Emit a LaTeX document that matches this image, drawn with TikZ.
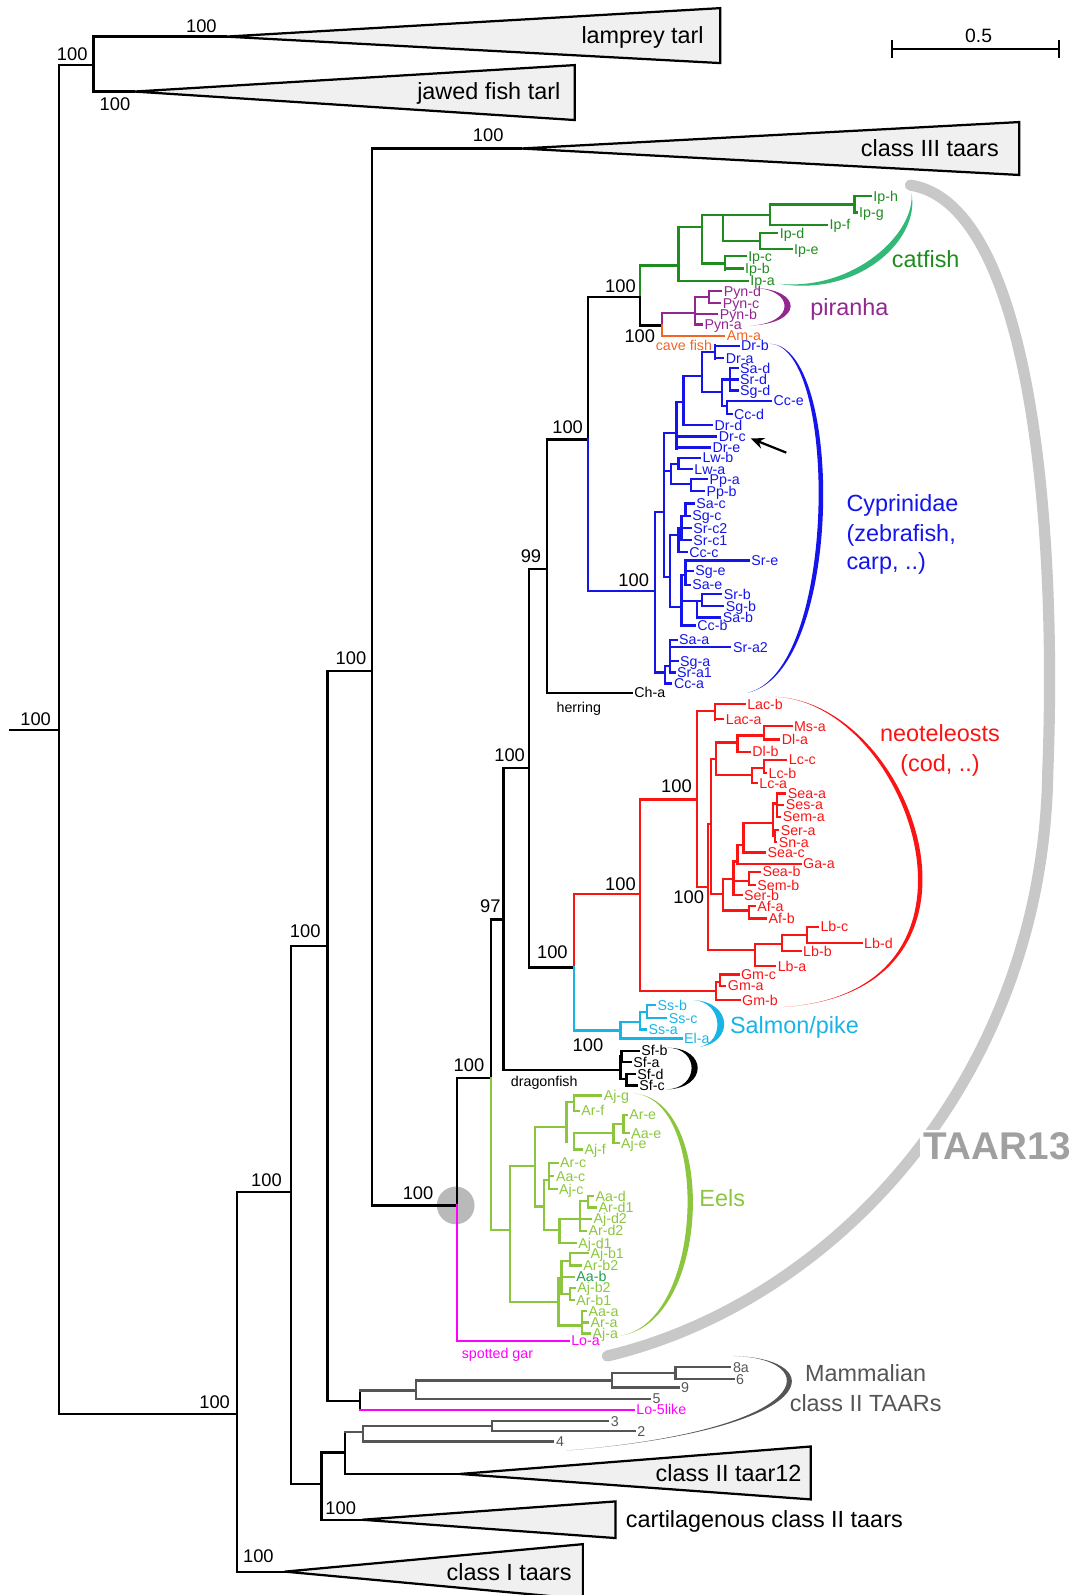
\documentclass[tikz,border=0pt]{standalone}
\usepackage{fontspec}
\setmainfont{Liberation Sans}
\usetikzlibrary{arrows.meta,calc}
\definecolor{cfg}{RGB}{30,140,30}
\definecolor{cfb}{RGB}{50,185,120}
\definecolor{pur}{RGB}{146,39,143}
\definecolor{org}{RGB}{242,101,34}
\definecolor{blu}{RGB}{20,20,235}
\definecolor{rd}{RGB}{250,20,20}
\definecolor{cya}{RGB}{25,180,230}
\definecolor{eel}{RGB}{140,198,63}
\definecolor{aab}{RGB}{30,160,80}
\definecolor{mag}{RGB}{255,0,255}
\definecolor{arcg}{RGB}{200,200,200}
\definecolor{taar}{RGB}{160,160,160}
\definecolor{mam}{RGB}{85,85,85}
\definecolor{trif}{RGB}{240,240,240}
\tikzset{
 br/.style={line width=2.2pt, line cap=rect},
 lbl/.style={font=\fontsize{14}{14}\selectfont, inner sep=1.5pt, text height=10pt, text depth=0pt},
 bs/.style={font=\fontsize{18}{18}\selectfont, inner sep=0pt, text height=13pt, text depth=0pt},
 big/.style={font=\fontsize{23}{23}\selectfont, inner sep=0pt, text height=16.5pt, text depth=0pt},
 tri/.style={draw=black, fill=trif, line width=2.2pt, line join=miter},
}
\newcommand\Vt[4]{\draw[br,#1] (#2,#3) -- (#2,#4);}
\newcommand\Hz[4]{\draw[br,#1] (#2,#4) -- (#3,#4);}
\newcommand\Lf[5]{\draw[br,#1] (#2,#4) -- (#3,#4) node[lbl,anchor=west,text=#1]{#5};}
\newcommand\cres[6]{\fill[#1] #2 .. controls #3 and #4 .. #5 .. controls ($#4+#6$) and ($#3+#6$) .. #2 -- cycle;}
\begin{document}
\begin{tikzpicture}[x=1pt,y=-1pt]
\useasboundingbox (0,0) rectangle (1072,1568);
% TAAR13 arc
\draw[arcg, line width=11pt, line cap=round] (895,182) .. controls (1010,200) and (1040,500) .. (1030,760) .. controls (1025,1060) and (820,1280) .. (597,1333);
\node[font=\fontsize{38}{38}\selectfont\bfseries, text=taar, fill=white, inner sep=3pt] (taar13) at (980,1127) {TAAR13};
% scale bar
\draw[line width=2.2pt] (877,48) -- (1041,48) (877,39) -- (877,57) (1041,39) -- (1041,57);
\node[font=\fontsize{19}{19}\selectfont] (scl) at (962,35) {0.5};
% top
\Hz{black}{10}{58}{718}
\Vt{black}{58}{64}{1390}
\Hz{black}{58}{92}{64}
\Vt{black}{92}{36}{90}
\Hz{black}{92}{222}{36}
\draw[tri] (222,36) -- (708,8) -- (708,62) -- cycle;
\node[big,anchor=east] (lam) at (692,35) {lamprey tarl};
\Hz{black}{92}{132}{90}
\draw[tri] (132,90) -- (565,64) -- (565,118) -- cycle;
\node[big,anchor=east] (jaw) at (551,90) {jawed fish tarl};
\Hz{black}{366}{512}{146}
\draw[tri] (512,146) -- (1002,120) -- (1002,172) -- cycle;
\node[big,anchor=east] (c3) at (982,146) {class III taars};
\Vt{black}{366}{146}{1185}
\fill[gray!55] (448,1185) circle (18.5);
\Hz{black}{366}{449}{1185}
\Hz{black}{322}{366}{660}
\Vt{black}{322}{660}{1377}
\Hz{black}{286}{322}{930}
\Vt{black}{286}{930}{1459}
\Hz{black}{233}{286}{1172}
\Vt{black}{233}{1172}{1545}
\Hz{black}{58}{233}{1390}
\Hz{black}{233}{280}{1545}
\draw[tri] (280,1545) -- (573,1518) -- (573,1572) -- cycle;
\node[big,anchor=east] (c1) at (562,1545) {class I taars};
\Hz{black}{286}{316}{1459}
\Vt{black}{316}{1428}{1494}
\Hz{black}{316}{356}{1494}
\draw[tri] (356,1494) -- (605,1476) -- (605,1512) -- cycle;
\node[big,anchor=west] (cart) at (615,1493) {cartilagenous class II taars};
\Hz{black}{316}{339}{1428}
\Vt{black}{339}{1408}{1449}
\Hz{black}{339}{452}{1449}
\draw[tri] (452,1449) -- (797,1422) -- (797,1474) -- cycle;
\node[big,anchor=east] (c12) at (788,1448) {class II taar12};
% mammalian
\Hz{mam}{339}{357}{1408}
\Vt{mam}{357}{1402}{1417}
\Hz{mam}{357}{483.5}{1402}
\Lf{mam}{357}{544}{1417}{4}
\Vt{mam}{483.5}{1397}{1407}
\Lf{mam}{483.5}{598}{1397}{3}
\Lf{mam}{483.5}{624}{1407}{2}
\Hz{black}{322}{354}{1377}
\Vt{black}{354}{1367}{1386}
\Hz{mam}{354}{409}{1367}
\Lf{mag}{354}{623}{1386}{Lo-5like}
\Vt{mam}{409}{1357}{1375}
\Hz{mam}{409}{601.5}{1357}
\Lf{mam}{409}{639}{1375}{5}
\Vt{mam}{601.5}{1350}{1364}
\Hz{mam}{601.5}{664}{1350}
\Lf{mam}{601.5}{667}{1364}{9}
\Vt{mam}{664}{1344}{1356}
\Lf{mam}{664}{718}{1344}{8a}
\Lf{mam}{664}{721}{1356}{6}
\cres{mam}{(721,1333)}{(815,1335)}{(815,1405)}{(557,1426)}{(-7,0)}
\node[big,text=mam] (mm1) at (851,1350) {Mammalian};
\node[big,text=mam] (mm2) at (851,1379) {class II TAARs};
% TAAR13 backbone
\Vt{black}{449}{1060}{1185}
\Vt{mag}{449}{1185}{1318}
\Lf{mag}{449}{559}{1318}{Lo-a}
\node[lbl,text=mag] (gar) at (489,1330) {spotted gar};
\Hz{black}{449}{483}{1060}
\Vt{black}{483}{904}{1060}
\Vt{eel}{483}{1060}{1209}
\Hz{eel}{483}{501}{1209}
\Hz{black}{483}{495}{904}
\Vt{black}{495}{755}{1052}
\Hz{black}{495}{610}{1052}
\node[lbl] (drg) at (535,1063) {dragonfish};
\Hz{black}{495}{520}{755}
\Vt{black}{520}{559}{951}
\Hz{black}{520}{538}{559}
\Vt{black}{538}{432}{681}
\Lf{black}{538}{621}{681}{Ch-a}
\node[lbl] (her) at (569,695) {herring};
\Hz{black}{538}{578}{432}
\Vt{black}{578}{292}{432}
\Vt{blu}{578}{432}{581}
\Hz{blu}{578}{644}{581}
\Hz{black}{578}{629}{292}
\Hz{black}{520}{564}{951}
\Vt{rd}{564}{879}{951}
\Vt{cya}{564}{951}{1013}
\Hz{rd}{564}{629}{879}
\Hz{cya}{564}{610}{1013}
% catfish
\Vt{cfg}{629}{261}{292}
\Vt{black}{629}{292}{320}
\Hz{cfg}{629}{667}{261}
\Hz{black}{629}{651}{320}
\Vt{cfg}{667}{223}{276}
\Lf{cfg}{667}{735}{276}{Ip-a}
\Hz{cfg}{667}{690}{223}
\Vt{cfg}{690}{211}{259}
\Hz{cfg}{690}{713}{259}
\Vt{cfg}{713}{253}{265}
\Lf{cfg}{713}{733}{252}{Ip-c}
\Lf{cfg}{713}{730}{264}{Ip-b}
\Hz{cfg}{690}{757}{211}
\Vt{cfg}{711}{211}{237}
\Hz{cfg}{711}{747}{237}
\Vt{cfg}{747}{229}{245}
\Lf{cfg}{747}{764}{229}{Ip-d}
\Lf{cfg}{747}{778}{245}{Ip-e}
\Vt{cfg}{757}{201}{221}
\Lf{cfg}{757}{813}{221}{Ip-f}
\Hz{cfg}{757}{840}{201}
\Vt{cfg}{840}{193}{207}
\Lf{cfg}{840}{856}{193}{Ip-h}
\Lf{cfg}{840}{842}{209}{Ip-g}
\cres{cfb}{(766,279)}{(845,292)}{(905,235)}{(896,190)}{(-5,-6)}
\node[big,text=cfg] (cat) at (910,255) {catfish};
% piranha
\Vt{pur}{651}{308}{320}
\Vt{org}{651}{320}{330}
\Hz{pur}{651}{683}{308}
\Lf{org}{651}{712}{330}{Am-a}
\node[lbl,text=org,anchor=west] (cave) at (643,340) {cave fish};
\Vt{pur}{683}{292}{318}
\Hz{pur}{683}{697}{292}
\Vt{pur}{697}{286}{298}
\Lf{pur}{697}{709}{286}{Pyn-d}
\Lf{pur}{697}{708}{298}{Pyn-c}
\Lf{pur}{683}{705}{309}{Pyn-b}
\Lf{pur}{683}{690}{319}{Pyn-a}
\cres{pur}{(740,283)}{(790,284)}{(790,318)}{(738,320)}{(-8,0)}
\node[big,text=pur] (pir) at (835,302) {piranha};
% Cyprinidae
\Vt{blu}{644}{503}{661}
\Hz{blu}{644}{653}{503}
\Vt{blu}{653}{426}{567}
\Hz{blu}{653}{665}{426}
\Vt{blu}{665}{395}{441}
\Lf{blu}{665}{704}{429}{Dr-c}
\Lf{blu}{665}{698}{440}{Dr-e}
\Hz{blu}{665}{672}{395}
\Vt{blu}{672}{370}{418}
\Lf{blu}{672}{700}{418}{Dr-d}
\Hz{blu}{672}{690}{370}
\Vt{blu}{690}{346}{385}
\Hz{blu}{690}{703}{346}
\Vt{blu}{703}{339}{353}
\Lf{blu}{703}{726}{340}{Dr-b}
\Lf{blu}{703}{711}{352}{Dr-a}
\Hz{blu}{690}{710}{385}
\Vt{blu}{710}{373}{399}
\Hz{blu}{710}{718}{373}
\Vt{blu}{718}{362}{384}
\Lf{blu}{718}{725}{362}{Sa-d}
\Lf{blu}{718}{725}{373}{Sr-d}
\Lf{blu}{718}{725}{384}{Sg-d}
\Hz{blu}{710}{715}{399}
\Vt{blu}{715}{394}{407}
\Lf{blu}{715}{758}{394}{Cc-e}
\Lf{blu}{715}{719}{407}{Cc-d}
\Hz{blu}{653}{660}{463}
\Vt{blu}{660}{456}{476}
\Hz{blu}{660}{667}{456}
\Vt{blu}{667}{450}{461}
\Lf{blu}{667}{688}{450}{Lw-b}
\Lf{blu}{667}{680}{461}{Lw-a}
\Hz{blu}{660}{679}{476}
\Vt{blu}{679}{471}{483}
\Lf{blu}{679}{695}{471}{Pp-a}
\Lf{blu}{679}{692}{483}{Pp-b}
\Hz{blu}{653}{659}{567}
\Vt{blu}{659}{526}{597}
\Hz{blu}{659}{667}{526}
\Vt{blu}{667}{519}{543}
\Lf{blu}{667}{675}{543}{Cc-c}
\Hz{blu}{667}{670}{519}
\Vt{blu}{670}{507}{531}
\Lf{blu}{670}{679}{519}{Sr-c2}
\Lf{blu}{670}{679}{531}{Sr-c1}
\Hz{blu}{670}{674}{507}
\Vt{blu}{674}{495}{507}
\Lf{blu}{674}{682}{495}{Sa-c}
\Lf{blu}{674}{678}{507}{Sg-c}
\Hz{blu}{659}{670}{597}
\Vt{blu}{670}{565}{614}
\Hz{blu}{670}{674}{565}
\Vt{blu}{674}{551}{575}
\Lf{blu}{674}{736}{551}{Sr-e}
\Lf{blu}{674}{681}{561}{Sg-e}
\Lf{blu}{674}{678}{575}{Sa-e}
\Hz{blu}{670}{685}{591}
\Vt{blu}{685}{591}{606}
\Hz{blu}{685}{690}{591}
\Vt{blu}{690}{584}{596}
\Lf{blu}{690}{709}{584}{Sr-b}
\Lf{blu}{690}{711}{596}{Sg-b}
\Lf{blu}{685}{708}{607}{Sa-b}
\Lf{blu}{670}{683}{615}{Cc-b}
\Hz{blu}{644}{654}{661}
\Vt{blu}{654}{655}{672}
\Lf{blu}{654}{660}{672}{Cc-a}
\Hz{blu}{654}{659}{655}
\Vt{blu}{659}{629}{661}
\Lf{blu}{659}{665}{629}{Sa-a}
\Lf{blu}{659}{718}{636}{Sr-a2}
\Lf{blu}{659}{666}{650}{Sg-a}
\Lf{blu}{659}{663}{661}{Sr-a1}
\cres{blu}{(757,338)}{(830,340)}{(830,660)}{(735,681)}{(-6,0)}
\node[big,text=blu,anchor=west] (cy1) at (832,495) {Cyprinidae};
\node[big,text=blu,anchor=west] (cy2) at (832,524) {(zebrafish,};
\node[big,text=blu,anchor=west] (cy3) at (832,552) {carp, ..)};
\coordinate (arrS) at (773,445);
\coordinate (arrE) at (738,431);
\draw[line width=2.2pt,-{Stealth[length=13pt,width=11pt]}] (arrS) -- (arrE);
% neoteleosts
\Vt{rd}{629}{786}{974}
\Hz{rd}{629}{685}{786}
\Vt{rd}{685}{699}{872}
\Hz{rd}{685}{703}{699}
\Vt{rd}{703}{692}{708}
\Lf{rd}{703}{732}{692}{Lac-b}
\Lf{rd}{703}{711}{707}{Lac-a}
\Hz{rd}{685}{696}{872}
\Vt{rd}{696}{810}{934}
\Hz{rd}{696}{699}{810}
\Vt{rd}{699}{746}{879}
\Hz{rd}{699}{704}{746}
\Vt{rd}{704}{730}{762}
\Hz{rd}{704}{725}{730}
\Vt{rd}{725}{723}{739}
\Hz{rd}{725}{751}{723}
\Vt{rd}{751}{714}{727}
\Lf{rd}{751}{778}{714}{Ms-a}
\Lf{rd}{751}{766}{727}{Dl-a}
\Lf{rd}{725}{737}{739}{Dl-b}
\Hz{rd}{704}{739}{762}
\Vt{rd}{739}{755}{770}
\Hz{rd}{739}{751}{755}
\Vt{rd}{751}{747}{760}
\Lf{rd}{751}{773}{747}{Lc-c}
\Lf{rd}{751}{753}{760}{Lc-b}
\Lf{rd}{739}{744}{770}{Lc-a}
\Hz{rd}{699}{711}{879}
\Vt{rd}{711}{864}{895}
\Hz{rd}{711}{721}{864}
\Vt{rd}{721}{847}{880}
\Hz{rd}{721}{725}{847}
\Vt{rd}{725}{831}{849}
\Lf{rd}{725}{787}{849}{Ga-a}
\Hz{rd}{725}{731}{831}
\Vt{rd}{731}{809}{838}
\Lf{rd}{731}{752}{838}{Sea-c}
\Hz{rd}{731}{760}{809}
\Vt{rd}{760}{790}{822}
\Hz{rd}{760}{764}{790}
\Vt{rd}{764}{780}{803}
\Lf{rd}{764}{772}{780}{Sea-a}
\Lf{rd}{764}{770}{791}{Ses-a}
\Lf{rd}{764}{767}{803}{Sem-a}
\Hz{rd}{760}{762}{822}
\Vt{rd}{762}{816}{828}
\Lf{rd}{762}{765}{816}{Ser-a}
\Lf{rd}{762}{763}{828}{Sn-a}
\Hz{rd}{721}{736}{866}
\Vt{rd}{736}{857}{870}
\Lf{rd}{736}{747}{857}{Sea-b}
\Lf{rd}{736}{742}{870}{Sem-b}
\Lf{rd}{721}{729}{880}{Ser-b}
\Hz{rd}{711}{736}{895}
\Vt{rd}{736}{891}{903}
\Lf{rd}{736}{742}{891}{Af-a}
\Lf{rd}{736}{753}{903}{Af-b}
\Hz{rd}{696}{742}{934}
\Vt{rd}{742}{928}{950}
\Lf{rd}{742}{762}{950}{Lb-a}
\Hz{rd}{742}{769}{928}
\Vt{rd}{769}{919}{935}
\Lf{rd}{769}{787}{935}{Lb-b}
\Hz{rd}{769}{793}{919}
\Vt{rd}{793}{911}{927}
\Lf{rd}{793}{804}{911}{Lb-c}
\Lf{rd}{793}{847}{927}{Lb-d}
\Hz{rd}{629}{704}{974}
\Vt{rd}{704}{965}{983}
\Hz{rd}{704}{708}{965}
\Vt{rd}{708}{958}{969}
\Lf{rd}{708}{726}{958}{Gm-c}
\Lf{rd}{708}{713}{969}{Gm-a}
\Lf{rd}{704}{727}{983}{Gm-b}
\cres{rd}{(762,685)}{(900,690)}{(1000,975)}{(770,990)}{(-6,0)}
\node[big,text=rd] (neo1) at (924,721) {neoteleosts};
\node[big,text=rd] (neo2) at (924,750) {(cod, ..)};
% salmon
\Vt{cya}{610}{1005}{1021}
\Hz{cya}{610}{629}{1005}
\Lf{cya}{610}{670}{1021}{El-a}
\Vt{cya}{629}{995}{1012}
\Hz{cya}{629}{636}{995}
\Lf{cya}{629}{635}{1012}{Ss-a}
\Vt{cya}{636}{988}{1001}
\Lf{cya}{636}{644}{988}{Ss-b}
\Lf{cya}{636}{655}{1001}{Ss-c}
\cres{cya}{(681,983)}{(721,985)}{(721,1025)}{(688,1029)}{(-9,0)}
\node[big,text=cya] (sal) at (781,1008) {Salmon/pike};
% dragonfish
\Vt{black}{610}{1038}{1061}
\Vt{black}{611}{1033}{1044}
\Lf{black}{611}{628}{1033}{Sf-b}
\Lf{black}{611}{620}{1044}{Sf-a}
\Hz{black}{610}{616}{1061}
\Vt{black}{616}{1056}{1067}
\Lf{black}{616}{624}{1056}{Sf-d}
\Lf{black}{616}{626}{1067}{Sf-c}
\cres{black}{(656,1030)}{(696,1030)}{(696,1070)}{(655,1071)}{(-8,0)}
% eels
\Vt{eel}{501}{1146}{1280}
\Hz{eel}{501}{526}{1146}
\Vt{eel}{526}{1108}{1186}
\Hz{eel}{526}{557}{1108}
\Vt{eel}{557}{1083}{1123}
\Hz{eel}{557}{564}{1083}
\Vt{eel}{564}{1077}{1092}
\Lf{eel}{564}{591}{1077}{Aj-g}
\Lf{eel}{564}{569}{1092}{Ar-f}
\Vt{eel}{564}{1114}{1130}
\Hz{eel}{564}{603}{1114}
\Lf{eel}{564}{572}{1130}{Aj-f}
\Vt{eel}{603}{1105}{1124}
\Hz{eel}{603}{613}{1105}
\Vt{eel}{613}{1096}{1114}
\Lf{eel}{613}{616}{1096}{Ar-e}
\Lf{eel}{613}{618}{1114}{Aa-e}
\Lf{eel}{603}{608}{1124}{Aj-e}
\Hz{eel}{526}{535}{1186}
\Vt{eel}{535}{1160}{1209}
\Hz{eel}{535}{540}{1160}
\Vt{eel}{540}{1143}{1169}
\Lf{eel}{540}{548}{1143}{Ar-c}
\Lf{eel}{540}{544}{1156}{Aa-c}
\Lf{eel}{540}{547}{1169}{Aj-c}
\Hz{eel}{535}{550}{1209}
\Vt{eel}{550}{1198}{1222}
\Lf{eel}{550}{566}{1222}{Aj-d1}
\Hz{eel}{550}{570}{1198}
\Vt{eel}{570}{1181}{1210}
\Hz{eel}{570}{578}{1181}
\Vt{eel}{578}{1176}{1187}
\Lf{eel}{578}{583}{1176}{Aa-d}
\Lf{eel}{578}{586}{1187}{Ar-d1}
\Lf{eel}{570}{581}{1198}{Aj-d2}
\Lf{eel}{570}{576}{1210}{Ar-d2}
\Hz{eel}{501}{549}{1280}
\Vt{eel}{549}{1256}{1303}
\Hz{eel}{549}{552}{1256}
\Vt{eel}{552}{1240}{1272}
\Hz{eel}{552}{560}{1240}
\Vt{eel}{560}{1232}{1244}
\Lf{eel}{560}{578}{1232}{Aj-b1}
\Lf{eel}{560}{571}{1244}{Ar-b2}
\draw[br,eel] (552,1255) -- (564,1255) node[lbl,anchor=west,text=aab]{Aa-b};
\Hz{eel}{552}{560}{1272}
\Vt{eel}{560}{1266}{1278}
\Lf{eel}{560}{565}{1266}{Aj-b2}
\Lf{eel}{560}{564}{1278}{Ar-b1}
\Hz{eel}{549}{572}{1303}
\Vt{eel}{572}{1289}{1311}
\Lf{eel}{572}{576}{1289}{Aa-a}
\Lf{eel}{572}{578}{1300}{Ar-a}
\Lf{eel}{572}{580}{1311}{Aj-a}
\cres{eel}{(623,1075)}{(705,1080)}{(700,1300)}{(610,1313)}{(-7,0)}
\node[big,text=eel] (eels) at (710,1178) {Eels};
% bootstrap values
\foreach \p/\t in {{35,707}/100,{71,53}/100,{198,25}/100,{113,102}/100,{480,133}/100,{610,281}/100,{629,330}/100,{558,420}/100,{522,546}/99,{623,570}/100,{345,647}/100,{501,742}/100,{665,773}/100,{610,869}/100,{677,882}/100,{482,891}/97,{300,915}/100,{543,936}/100,{578,1027}/100,{461,1047}/100,{262,1160}/100,{411,1173}/100,{211,1378}/100,{335,1482}/100,{254,1530}/100}
  \node[bs] at (\p) {\t};
\end{tikzpicture}
\end{document}
